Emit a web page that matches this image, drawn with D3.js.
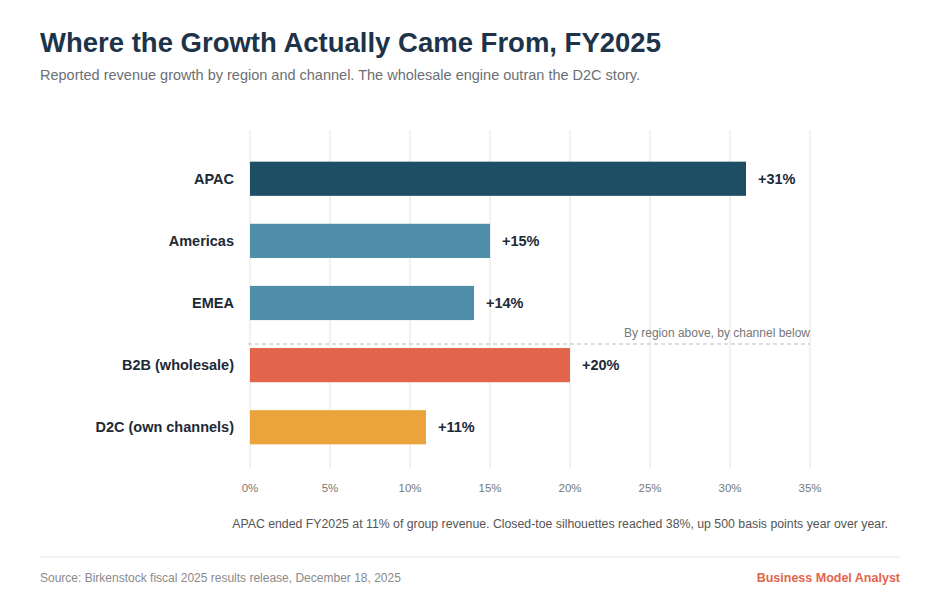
<!DOCTYPE html>
<html><head><meta charset="utf-8">
<script src="https://cdn.jsdelivr.net/npm/d3@7"></script>
<style>body{margin:0;background:#fff;font-family:"Liberation Sans",Arial,sans-serif;}</style>
</head><body><svg id="c" width="940" height="600"></svg>
<script>
var categories = ["APAC", "Americas", "EMEA", "B2B (wholesale)", "D2C (own channels)"];
var growth = [31, 15, 14, 20, 11];
var colors = ["#1d4e63", "#4f8ea8", "#4f8ea8", "#e2644b", "#eba43c"];
var ticks = [0, 5, 10, 15, 20, 25, 30, 35];

var svg = d3.select("#c");
var x = d3.scaleLinear().domain([0, 35]).range([250, 810]);
var y = d3.scaleBand().domain(categories).range([148, 458]).paddingInner(0.45).paddingOuter(0.22);

svg.append("text").attr("x", 40).attr("y", 52).attr("font-size", 27.5).attr("font-weight", "bold")
  .attr("fill", "#1d3349").text("Where the Growth Actually Came From, FY2025");
svg.append("text").attr("x", 40).attr("y", 80).attr("font-size", 14.5).attr("fill", "#6b6f75")
  .text("Reported revenue growth by region and channel. The wholesale engine outran the D2C story.");

svg.selectAll(".grid").data(ticks).enter().append("line")
  .attr("x1", d => x(d)).attr("x2", d => x(d)).attr("y1", 130).attr("y2", 468)
  .attr("stroke", "#ececec").attr("stroke-width", 1.5);
svg.selectAll(".tick").data(ticks).enter().append("text")
  .attr("x", d => x(d)).attr("y", 492).attr("text-anchor", "middle").attr("font-size", 11.5)
  .attr("fill", "#777").text(d => d + "%");

svg.selectAll(".bar").data(categories).enter().append("rect")
  .attr("x", x(0)).attr("y", d => y(d)).attr("height", y.bandwidth())
  .attr("width", (d, i) => x(growth[i]) - x(0)).attr("fill", (d, i) => colors[i]);
svg.selectAll(".lab").data(categories).enter().append("text")
  .attr("x", 234).attr("y", d => y(d) + y.bandwidth() / 2 + 5).attr("text-anchor", "end")
  .attr("font-size", 14.5).attr("font-weight", "bold").attr("fill", "#1d2a36").text(d => d);
svg.selectAll(".val").data(categories).enter().append("text")
  .attr("x", (d, i) => x(growth[i]) + 12).attr("y", d => y(d) + y.bandwidth() / 2 + 5)
  .attr("font-size", 14.5).attr("font-weight", "bold").attr("fill", "#1d2a36").text((d, i) => "+" + growth[i] + "%");

var sepY = 344;
svg.append("line").attr("x1", 248).attr("x2", 810).attr("y1", sepY).attr("y2", sepY)
  .attr("stroke", "#cfd3d6").attr("stroke-width", 1.5).attr("stroke-dasharray", "4,3");
svg.append("text").attr("x", 810).attr("y", sepY - 7).attr("text-anchor", "end").attr("font-size", 12)
  .attr("fill", "#777").text("By region above, by channel below");

svg.append("text").attr("x", 888).attr("y", 528).attr("text-anchor", "end").attr("font-size", 12.3)
  .attr("fill", "#555").text("APAC ended FY2025 at 11% of group revenue. Closed-toe silhouettes reached 38%, up 500 basis points year over year.");
svg.append("line").attr("x1", 40).attr("x2", 900).attr("y1", 557).attr("y2", 557).attr("stroke", "#e6e6e6");
svg.append("text").attr("x", 40).attr("y", 582).attr("font-size", 12).attr("fill", "#8a8a8a")
  .text("Source: Birkenstock fiscal 2025 results release, December 18, 2025");
svg.append("text").attr("x", 900).attr("y", 582).attr("text-anchor", "end").attr("font-size", 12.5)
  .attr("font-weight", "bold").attr("fill", "#e2644b").text("Business Model Analyst");
</script></body></html>
